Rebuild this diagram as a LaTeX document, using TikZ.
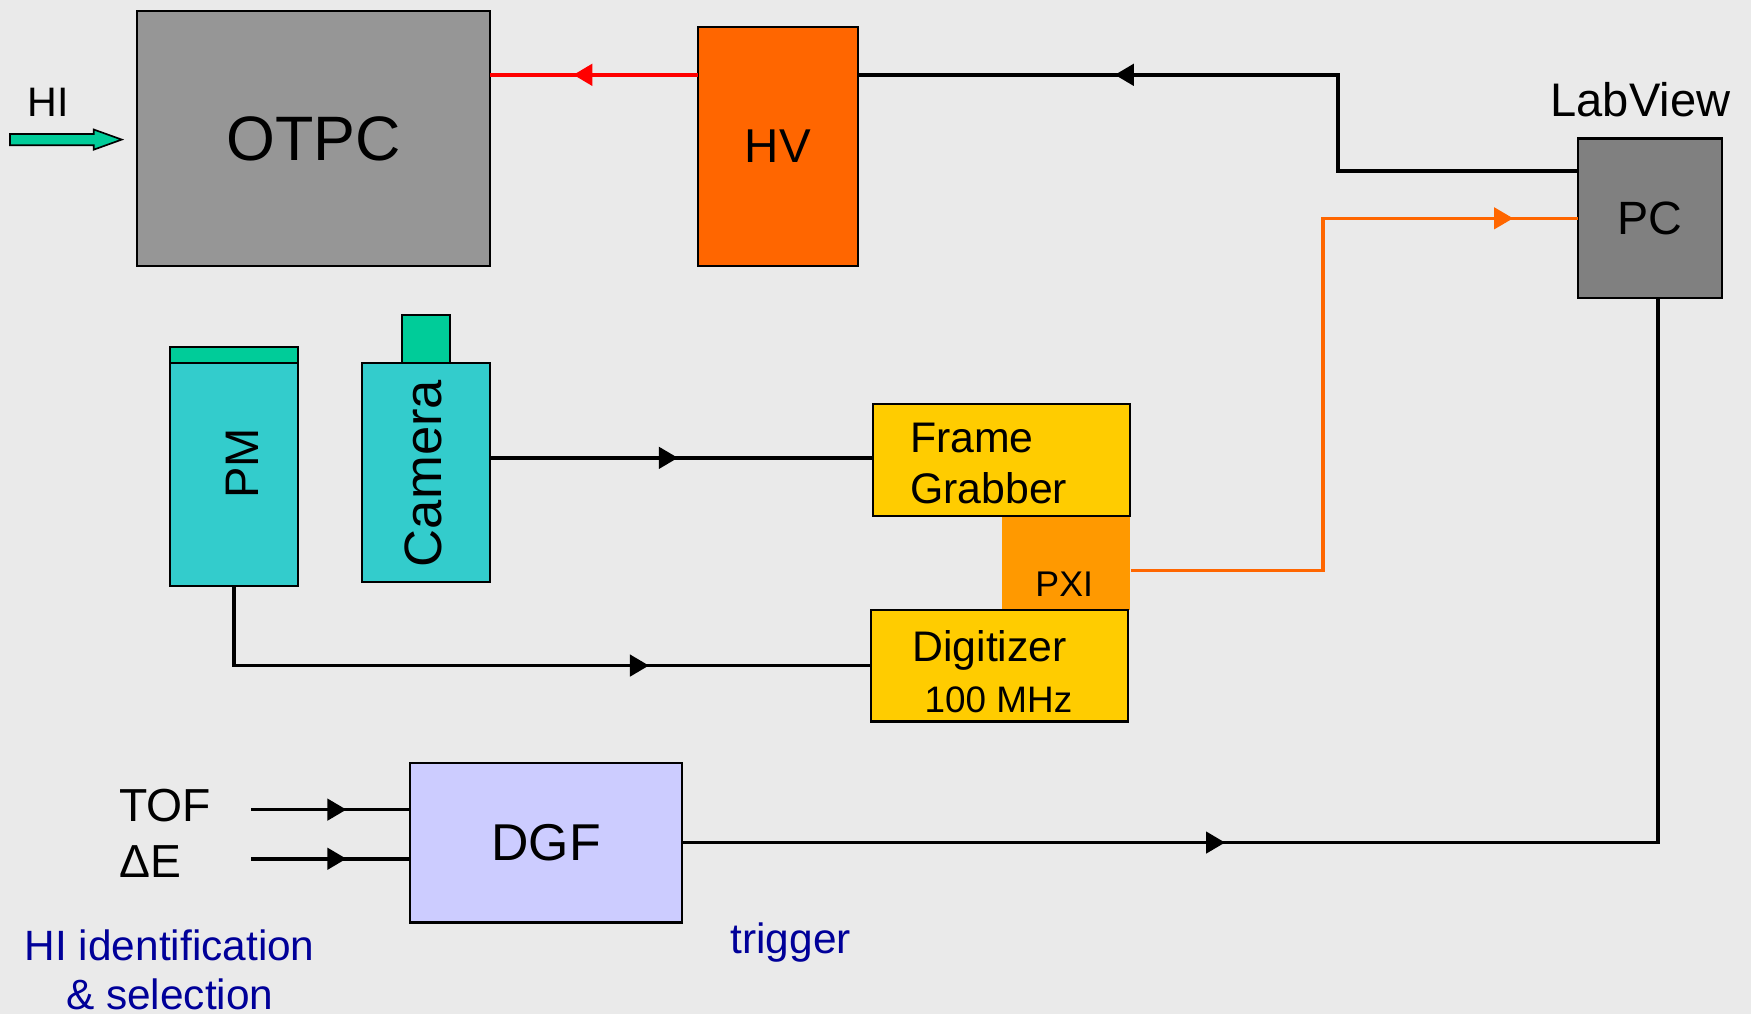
\documentclass[tikz,border=0pt]{standalone}
\usepackage{fontspec}
\setmainfont{Liberation Sans}
\usetikzlibrary{arrows.meta,decorations.markings,calc}
\definecolor{bg}{RGB}{234,234,234}
\definecolor{otpcgray}{RGB}{150,150,150}
\definecolor{pcgray}{RGB}{128,128,128}
\definecolor{hvorange}{RGB}{255,102,0}
\definecolor{pxiorange}{RGB}{255,153,0}
\definecolor{fgyellow}{RGB}{255,204,0}
\definecolor{tealbody}{RGB}{51,204,204}
\definecolor{capgreen}{RGB}{0,204,153}
\definecolor{dgfblue}{RGB}{204,204,255}
\definecolor{labelblue}{RGB}{0,0,153}
\definecolor{wirered}{RGB}{255,0,0}
\newcommand{\myfs}[1]{\fontsize{#1}{#1}\selectfont}
\tikzset{
  box/.style={draw=black, line width=0.2mm, inner sep=0pt, outer sep=0pt},
  txt/.style={inner sep=0pt, outer sep=0pt},
  wire/.style={draw=black, line width=0.33mm},
  redwire/.style={draw=wirered, line width=0.36mm},
  orangewire/.style={draw=hvorange, line width=0.3mm},
  midarr/.style={postaction={decorate,decoration={markings,
      mark=at position #1 with {\arrow{Triangle[length=1.7mm,width=1.9mm]}}}}},
}
\begin{document}
\begin{tikzpicture}[x=0.1mm,y=-0.1mm]
\useasboundingbox (0,0) rectangle (1568,908);
\fill[bg] (0,0) rectangle (1568,908);

% boxes
\node[box, fill=otpcgray, minimum width=31.6mm, minimum height=22.8mm] (otpc) at (281,124) {\myfs{16}OTPC};
\node[box, fill=hvorange, minimum width=14.3mm, minimum height=21.4mm] (hv) at (696.5,131) {\myfs{12.1}HV};
\node[box, fill=pcgray, minimum width=12.9mm, minimum height=14.3mm] (pc) at (1477.5,195.5) {\myfs{11.9}PC};

\node[box, fill=capgreen, minimum width=11.5mm, minimum height=1.4mm] (pmcap) at (209.5,318) {};
\node[box, fill=tealbody, minimum width=11.5mm, minimum height=20mm] (pm) at (209.5,425) {};
\node[txt, rotate=90] (pmtxt) at (217,415) {\myfs{12}PM};

\node[box, fill=capgreen, minimum width=4.3mm, minimum height=4.3mm] (camknob) at (381.5,303.5) {};
\node[box, fill=tealbody, minimum width=11.5mm, minimum height=19.6mm] (cam) at (381.5,423) {};
\node[txt, rotate=90] (camtxt) at (379,424) {\myfs{13.4}Camera};

\node[fill=pxiorange, inner sep=0pt, minimum width=11.5mm, minimum height=8.4mm] (pxi) at (954.5,504) {};
\node[box, fill=fgyellow, minimum width=23mm, minimum height=10mm] (fg) at (897,412) {};
\node[box, fill=fgyellow, minimum width=23mm, minimum height=10mm] (dig) at (895,596) {};
\node[txt, anchor=base west] (fgt1) at (815,405) {\myfs{10.9}Frame};
\node[txt, anchor=base west] (fgt2) at (815,451) {\myfs{10.9}Grabber};
\node[txt, anchor=base] (pxitxt) at (953,534) {\myfs{9.1}PXI};
\node[txt, anchor=base west] (digt1) at (817,592) {\myfs{10.9}Digitizer};
\node[txt, anchor=base west] (digt2) at (828,638) {\myfs{9.4}100 MHz};

\node[box, fill=dgfblue, minimum width=24.4mm, minimum height=14.3mm] (dgf) at (489,754.5) {\myfs{13.2}DGF};

% labels
\node[txt, anchor=base] (hi) at (43,104) {\myfs{10.5}HI};
\node[txt, anchor=base] (labview) at (1469,104) {\myfs{12}LabView};
\node[txt, anchor=base west] (tof) at (107,736) {\myfs{11.8}TOF};
\node[txt, anchor=base west] (de) at (107,786) {\myfs{11.8}ΔE};
\node[txt, anchor=base, text=labelblue] (hiid1) at (152,860) {\myfs{10.8}HI identification};
\node[txt, anchor=base, text=labelblue] (hiid2) at (152,904) {\myfs{10.8}\& selection};
\node[txt, anchor=base, text=labelblue] (trig) at (708,854) {\myfs{10.8}trigger};

% HI beam arrow
\draw[fill=capgreen, line width=0.15mm] (9,120) -- (84,120) -- (84,116) -- (109,125) -- (84,134) -- (84,130) -- (9,130) -- cycle;

% connectors
\coordinate (hvL) at ([yshift=-4.3mm]hv.north west);
\coordinate (hvR) at ([yshift=-4.3mm]hv.north east);
\coordinate (pcA) at ([yshift=-2.9mm]pc.north west);
\coordinate (pxiR) at ([yshift=-0.7mm]pxi.east);
\coordinate (tofin) at ([yshift=-4.2mm]dgf.north west);
\coordinate (dein) at ([yshift=-8.6mm]dgf.north west);
\coordinate (pcB) at ([xshift=0.75mm]pc.south);

\draw[redwire, midarr=0.6] (hvL) -- (hvL -| otpc.east);
\draw[wire, midarr=0.685] (pcA) -- ++(-215,0) |- (hvR);
\draw[orangewire, midarr=0.919] (pxiR) -- ++(172,0) |- (pc.west);
\draw[wire, midarr=0.49] ([yshift=1.3mm]cam.east) -- ([yshift=1.3mm]cam.east -| fg.west);
\draw[wire, midarr=0.69] (pm.south) |- (dig.west);
\draw[wire, midarr=0.6] ($(tofin)+(-142,0)$) -- (tofin);
\draw[wire, midarr=0.6] ($(dein)+(-142,0)$) -- (dein);
\draw[wire, midarr=0.357] (dgf.east) -| (pcB);
\end{tikzpicture}
\end{document}
